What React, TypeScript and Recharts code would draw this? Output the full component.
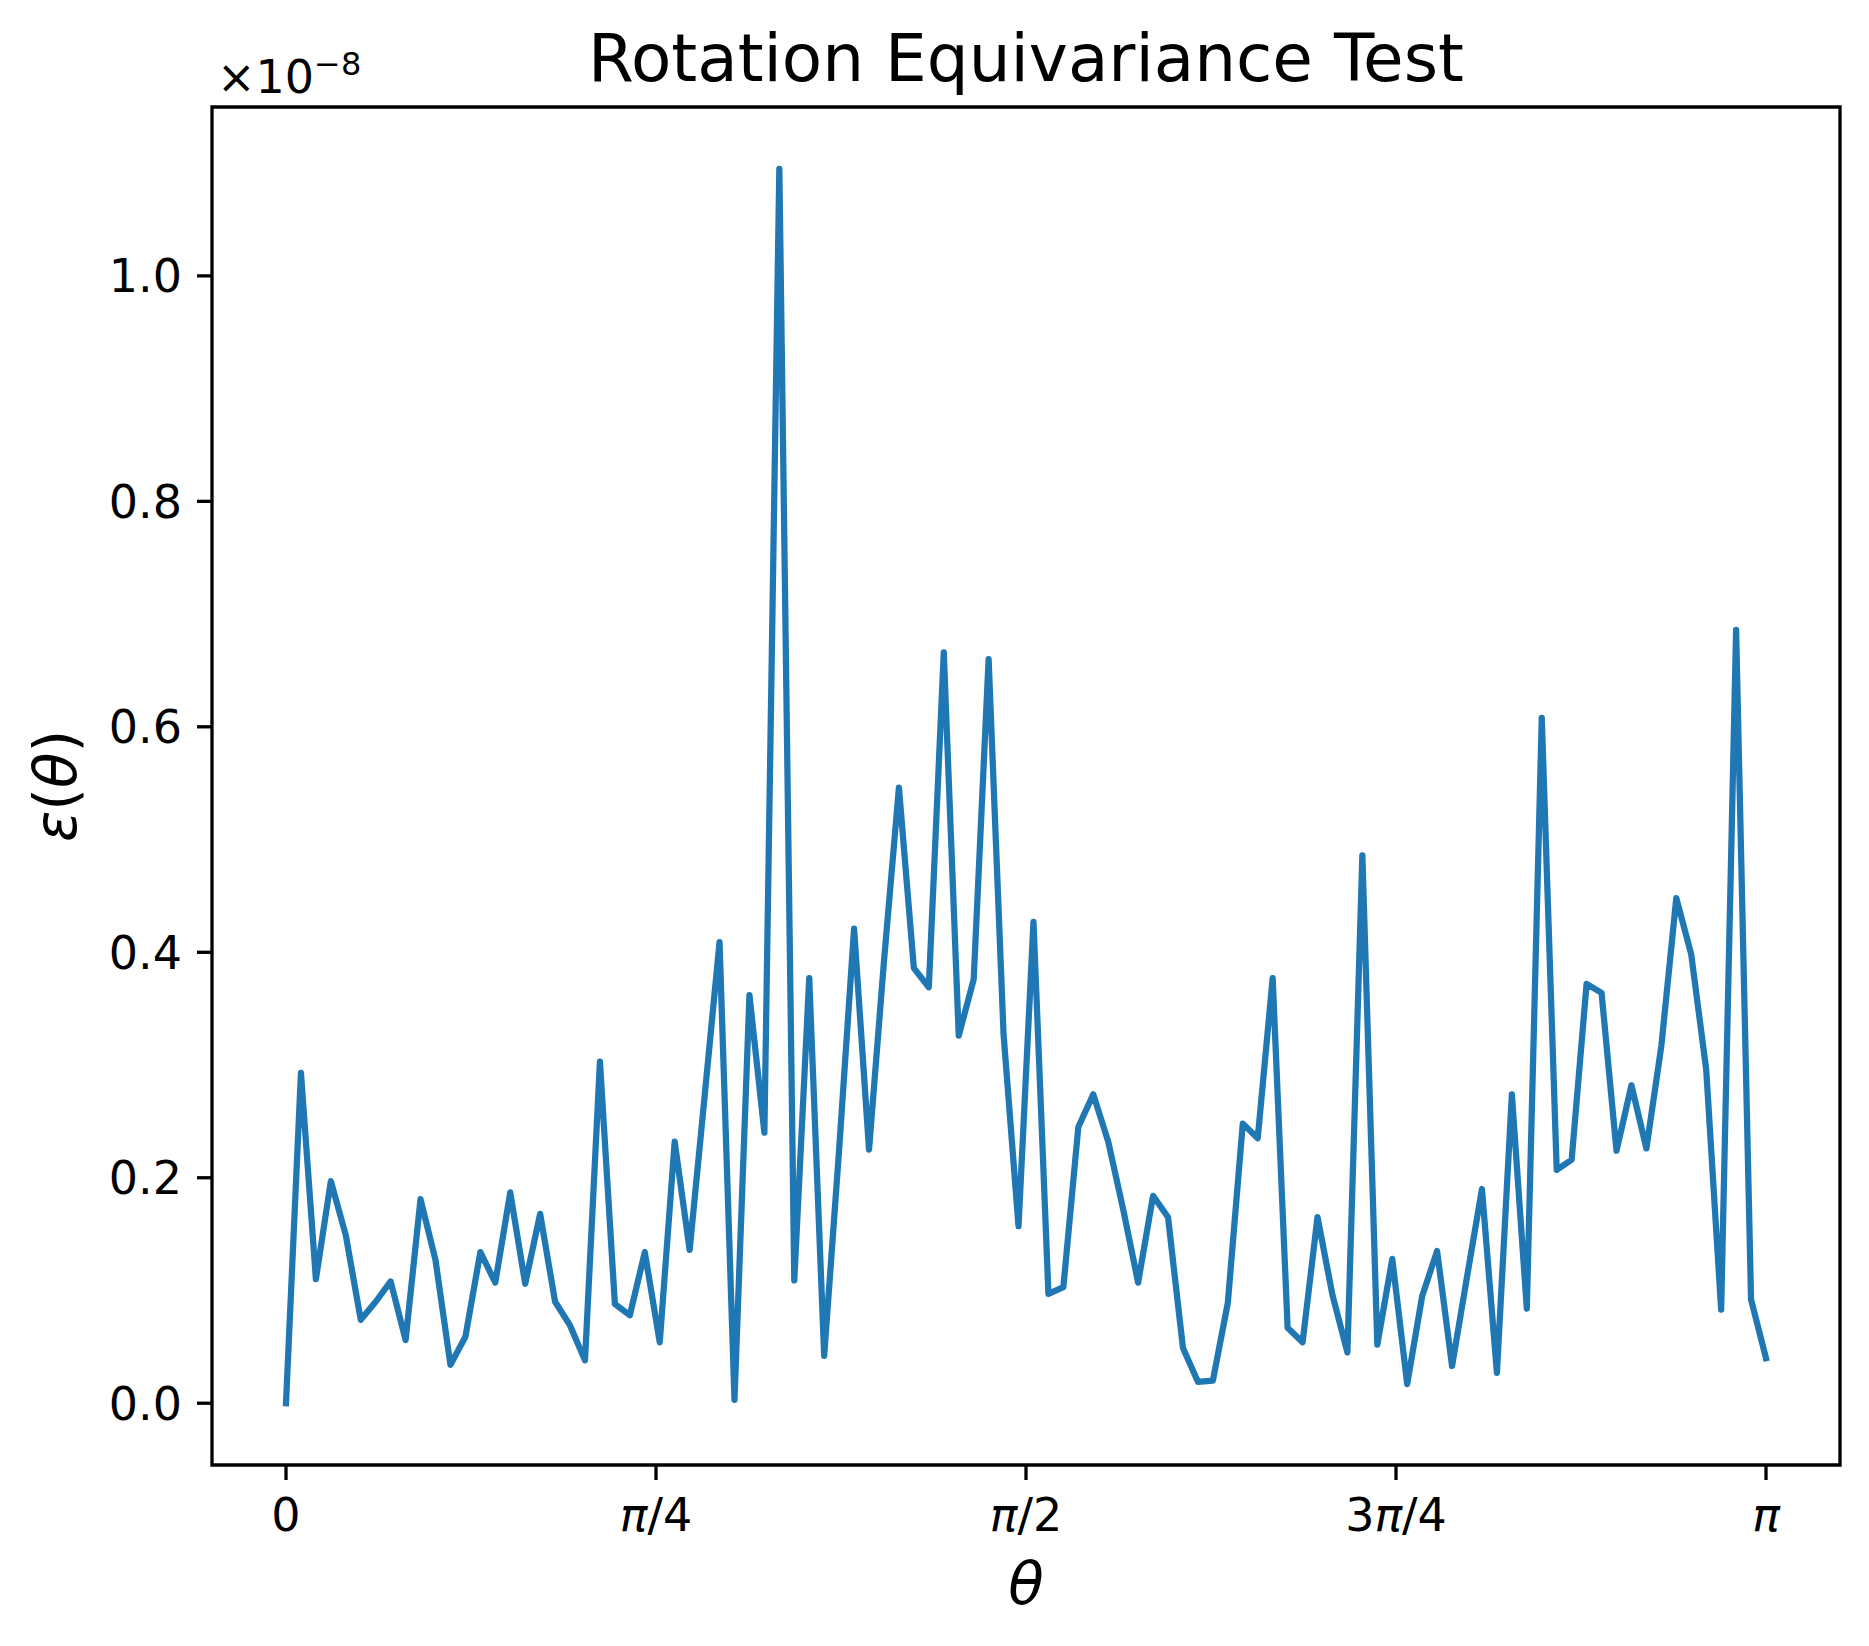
import { Line, LineChart, ReferenceArea, XAxis, YAxis } from 'recharts';

// sample index 0..99 (theta = linspace(0, pi, 100)), error in units of 1e-8
const errors = [
  0.0, 0.293, 0.11, 0.197, 0.149, 0.074, 0.09, 0.108, 0.056, 0.181,
  0.127, 0.034, 0.059, 0.134, 0.107, 0.187, 0.106, 0.168, 0.09, 0.069,
  0.038, 0.303, 0.088, 0.078, 0.134, 0.054, 0.232, 0.136, 0.272, 0.409,
  0.003, 0.362, 0.24, 1.095, 0.109, 0.377, 0.042, 0.225, 0.421, 0.225,
  0.392, 0.546, 0.386, 0.369, 0.666, 0.326, 0.376, 0.66, 0.327, 0.157,
  0.427, 0.097, 0.103, 0.245, 0.274, 0.232, 0.172, 0.107, 0.184, 0.165,
  0.049, 0.019, 0.02, 0.089, 0.248, 0.235, 0.377, 0.067, 0.054, 0.165,
  0.096, 0.045, 0.486, 0.052, 0.128, 0.017, 0.095, 0.135, 0.033, 0.112,
  0.19, 0.027, 0.274, 0.084, 0.608, 0.207, 0.216, 0.372, 0.364, 0.224,
  0.282, 0.226, 0.317, 0.448, 0.398, 0.296, 0.083, 0.686, 0.092, 0.04
];

const xTicks = [0, 24.75, 49.5, 74.25, 99];
// [upright prefix, italic pi, upright suffix]
const xTickLabels: [string, string, string][] = [
  ['0', '', ''],
  ['', 'π', '/4'],
  ['', 'π', '/2'],
  ['3', 'π', '/4'],
  ['', 'π', '']
];
const yTicks = [0, 0.2, 0.4, 0.6, 0.8, 1.0];

const data = errors.map((err, i) => ({ i, err }));

const FONT = 'DejaVu Sans';

const XTick = ({ x, y, payload }: any) => {
  const idx = xTicks.indexOf(payload.value);
  const [pre, pi, post] = xTickLabels[idx] ?? ['', '', ''];
  return (
    <text x={x} y={y + 51} textAnchor="middle" fontSize={46} fontFamily={FONT} fill="#000">
      {pre && <tspan>{pre}</tspan>}
      {pi && <tspan fontStyle="italic">{pi}</tspan>}
      {post && <tspan>{post}</tspan>}
    </text>
  );
};

export default function App() {
  return (
    <div style={{ position: 'absolute', left: 0, top: 0, width: 1869, height: 1646, background: '#fff' }}>
      <LineChart
        width={1869}
        height={1646}
        data={data}
        margin={{ top: 107, right: 29, bottom: 151, left: 152 }}
      >
        <XAxis
          type="number"
          dataKey="i"
          domain={[-4.95, 103.95]}
          ticks={xTicks}
          interval={0}
          height={30}
          axisLine={false}
          tickSize={15}
          tickMargin={0}
          tickLine={{ stroke: '#000', strokeWidth: 3.3 }}
          tick={<XTick />}
        />
        <YAxis
          type="number"
          domain={[-0.0548, 1.1498]}
          ticks={yTicks}
          interval={0}
          width={60}
          axisLine={false}
          tickSize={15}
          tickMargin={15}
          tickLine={{ stroke: '#000', strokeWidth: 3.3 }}
          tick={{ fontSize: 46, fill: '#000', fontFamily: FONT }}
          tickFormatter={(v: number) => v.toFixed(1)}
        />
        <Line
          type="linear"
          dataKey="err"
          stroke="#1f77b4"
          strokeWidth={6.25}
          strokeLinejoin="round"
          strokeLinecap="square"
          dot={false}
          activeDot={false}
          isAnimationActive={false}
        />
        <ReferenceArea
          x1={-4.95}
          x2={103.95}
          y1={-0.0548}
          y2={1.1498}
          fill="none"
          fillOpacity={0}
          stroke="#000"
          strokeWidth={3.3}
          ifOverflow="visible"
        />
      </LineChart>
      <svg
        width={1869}
        height={1646}
        style={{ position: 'absolute', left: 0, top: 0, pointerEvents: 'none' }}
      >
        <text x={1026} y={81} textAnchor="middle" fontSize={66} fontFamily={FONT} fill="#000">
          Rotation Equivariance Test
        </text>
        <text x={217} y={93} fontSize={46} fontFamily={FONT} fill="#000">
          ×10<tspan dy={-18} fontSize={32}>−8</tspan>
        </text>
        <text x={1026} y={1604} textAnchor="middle" fontSize={58} fontFamily={FONT} fontStyle="italic" fill="#000">
          θ
        </text>
        <text
          x={0}
          y={0}
          transform="translate(76 786) rotate(-90)"
          textAnchor="middle"
          fontSize={58}
          fontFamily={FONT}
          fill="#000"
        >
          <tspan fontStyle="italic">ε</tspan>
          <tspan>(</tspan>
          <tspan fontStyle="italic">θ</tspan>
          <tspan>)</tspan>
        </text>
      </svg>
    </div>
  );
}
